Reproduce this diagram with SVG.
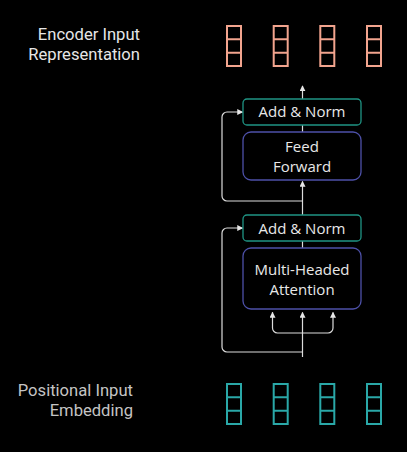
<svg xmlns="http://www.w3.org/2000/svg" width="407" height="452" viewBox="0 0 407 452">
<defs>
<marker id="ah" viewBox="0 0 8 8" refX="7" refY="4" markerWidth="6" markerHeight="6" markerUnits="userSpaceOnUse" orient="auto">
<path d="M0,0 L8,4 L0,8 Z" fill="#e6e6e6"/>
</marker>
<style>
.lbl{font-family:Roboto,"Liberation Sans",sans-serif;font-size:16.6px;text-anchor:end}
.bt{font-family:"Open Sans","Liberation Sans",sans-serif;font-size:15px;fill:#e8e8e8;text-anchor:middle}
.an{fill:none;stroke:#1f9484;stroke-width:1.3}
.blk{fill:none;stroke:#4d50a8;stroke-width:1.3}
.vo{fill:none;stroke:#f2a48e;stroke-width:2}
.vi{fill:none;stroke:#2aa8a8;stroke-width:2}
.c{fill:none;stroke:#dcdcdc;stroke-width:1.2}
</style>
</defs>
<rect width="407" height="452" fill="#000"/>
<g id="label-out">
<text class="lbl" x="140" y="39.5" fill="#e6e6e6">Encoder Input</text>
<text class="lbl" x="140" y="59.5" fill="#e6e6e6">Representation</text>
</g>
<g id="label-in">
<text class="lbl" x="133" y="396" fill="#c4c4c4">Positional Input</text>
<text class="lbl" x="133" y="415.5" fill="#c4c4c4">Embedding</text>
</g>
<g id="out-vectors">
<g id="out1"><rect class="vo" x="227" y="26" width="14" height="40"/><path class="vo" d="M227,39.3H241M227,52.7H241"/></g>
<g id="out2"><rect class="vo" x="273.7" y="26" width="14" height="40"/><path class="vo" d="M273.7,39.3H287.7M273.7,52.7H287.7"/></g>
<g id="out3"><rect class="vo" x="320.3" y="26" width="14" height="40"/><path class="vo" d="M320.3,39.3H334.3M320.3,52.7H334.3"/></g>
<g id="out4"><rect class="vo" x="367" y="26" width="14" height="40"/><path class="vo" d="M367,39.3H381M367,52.7H381"/></g>
</g>
<g id="in-vectors">
<g id="in1"><rect class="vi" x="227" y="384" width="14" height="40"/><path class="vi" d="M227,397.3H241M227,410.7H241"/></g>
<g id="in2"><rect class="vi" x="273.7" y="384" width="14" height="40"/><path class="vi" d="M273.7,397.3H287.7M273.7,410.7H287.7"/></g>
<g id="in3"><rect class="vi" x="320.3" y="384" width="14" height="40"/><path class="vi" d="M320.3,397.3H334.3M320.3,410.7H334.3"/></g>
<g id="in4"><rect class="vi" x="367" y="384" width="14" height="40"/><path class="vi" d="M367,397.3H381M367,410.7H381"/></g>
</g>
<g id="connectors">
<path class="c" d="M302.5,357V312.5" marker-end="url(#ah)"/>
<path class="c" d="M272.5,312.5V328a5,5 0 0 0 5,5H328a5,5 0 0 0 5,-5V312.5" marker-end="url(#ah)"/>
<path class="c" d="M272.5,313V312.5" marker-end="url(#ah)"/>
<path class="c" d="M302.5,352H227a5,5 0 0 1 -5,-5V233a5,5 0 0 1 5,-5H242.5" marker-end="url(#ah)"/>
<path class="c" d="M302.5,241V248"/>
<path class="c" d="M302.5,215V181.5" marker-end="url(#ah)"/>
<path class="c" d="M302.5,201H227a5,5 0 0 1 -5,-5V117a5,5 0 0 1 5,-5H242.5" marker-end="url(#ah)"/>
<path class="c" d="M302.5,125V132"/>
<path class="c" d="M302.5,99V86" marker-end="url(#ah)"/>
</g>
<g id="add-norm-2">
<rect class="an" x="243" y="99" width="118" height="26" rx="4"/>
<text class="bt" x="302" y="117">Add &amp; Norm</text>
</g>
<g id="feed-forward">
<rect class="blk" x="243" y="132" width="118" height="48" rx="8"/>
<text class="bt" x="302" y="152">Feed</text>
<text class="bt" x="302" y="171.5">Forward</text>
</g>
<g id="add-norm-1">
<rect class="an" x="243" y="215" width="118" height="26" rx="4"/>
<text class="bt" x="302" y="233.5">Add &amp; Norm</text>
</g>
<g id="multi-head-attention">
<rect class="blk" x="243" y="248" width="118" height="61" rx="8"/>
<text class="bt" x="302" y="275">Multi-Headed</text>
<text class="bt" x="302" y="295">Attention</text>
</g>
</svg>
